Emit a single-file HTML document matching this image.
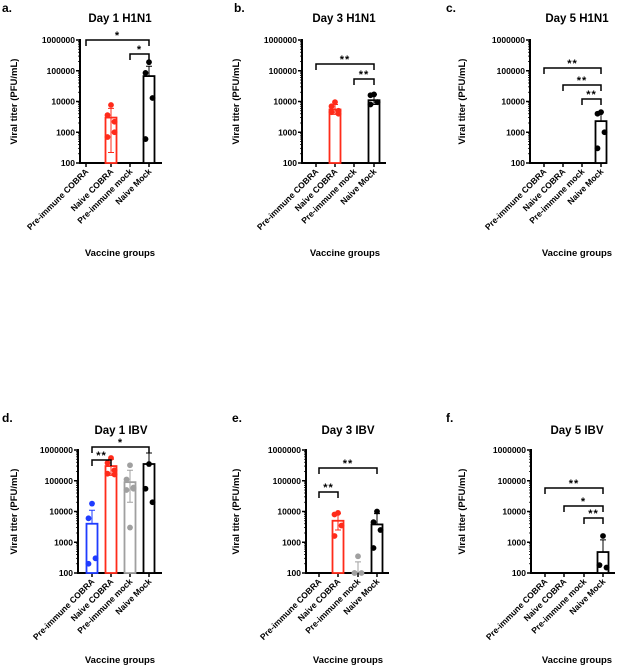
<!DOCTYPE html>
<html><head><meta charset="utf-8"><style>
html,body{margin:0;padding:0;background:#fff;}
svg{display:block;font-family:"Liberation Sans",Arial,sans-serif;}
</style></head><body>
<svg id="fig" width="617" height="668" viewBox="0 0 617 668"></svg>
<script>
const categories = ["Pre-immune COBRA","Naive COBRA","Pre-immune mock","Naive Mock"];
const yTicks = [100,1000,10000,100000,1000000];
const yTickLabels = ["100","1000","10000","100000","1000000"];
const groupColors = ["#1f3cff","#ff2b1a","#a0a0a0","#000000"];

const aMeans = [null,3000,null,67000];
const aErrTop = [null,6000,null,140000];
const aErrBot = [null,220,null,null];
const aPoints = [[],[7700,3600,2200,700,1000],[],[190000,85000,13000,600]];

const bMeans = [null,5500,null,11000];
const bErrTop = [null,8000,null,17000];
const bErrBot = [null,3800,null,8000];
const bPoints = [[],[9500,7000,5000,4500,4000],[],[17000,16000,9500,8000]];

const cMeans = [null,null,null,2300];
const cErrTop = [null,null,null,4500];
const cErrBot = [null,null,null,null];
const cPoints = [[],[],[],[4500,4000,1000,300]];

const dMeans = [4000,300000,90000,350000];
const dErrTop = [11000,500000,220000,800000];
const dErrBot = [null,150000,20000,null];
const dPoints = [[18000,6000,300,200],[550000,380000,220000,170000,160000],[320000,110000,60000,50000,55000,3000],[350000,55000,20000]];

const eMeans = [null,5000,100,3800];
const eErrTop = [null,8500,230,8500];
const eErrBot = [null,2500,null,null];
const ePoints = [[],[9000,8000,3500,1600],[350,100,100,100],[10000,4500,2500,650]];

const fMeans = [null,null,null,480];
const fErrTop = [null,null,null,1200];
const fErrBot = [null,null,null,null];
const fPoints = [[],[],[],[1600,180,150]];

const aSig = [[0,3,"*"],[2,3,"*"]];
const bSig = [[0,3,"**"],[2,3,"**"]];
const cSig = [[0,3,"**"],[1,3,"**"],[2,3,"**"]];
const dSig = [[0,3,"*"],[0,1,"**"]];
const eSig = [[0,3,"**"],[0,1,"**"]];
const fSig = [[0,3,"**"],[1,3,"*"],[2,3,"**"]];

const panels = [
 {id:"a",title:"Day 1 H1N1",top:40,bottom:163,ax:80,axEnd:162,cx:[86,111,130,149],lx:2,ly:12,tx:120,ty:22,ylx:17,vgx:120,vgy:256,means:aMeans,et:aErrTop,eb:aErrBot,pts:aPoints,sig:aSig,sigY:[40,54]},
 {id:"b",title:"Day 3 H1N1",top:40,bottom:163,ax:302,axEnd:386,cx:[316,335,354,374],lx:234,ly:12,tx:344,ty:22,ylx:239,vgx:345,vgy:256,means:bMeans,et:bErrTop,eb:bErrBot,pts:bPoints,sig:bSig,sigY:[64,79]},
 {id:"c",title:"Day 5 H1N1",top:40,bottom:163,ax:530,axEnd:607,cx:[544,563,582,601],lx:446,ly:12,tx:577,ty:22,ylx:465,vgx:577,vgy:256,means:cMeans,et:cErrTop,eb:cErrBot,pts:cPoints,sig:cSig,sigY:[68,85,99]},
 {id:"d",title:"Day 1 IBV",top:450,bottom:573,ax:78,axEnd:162,cx:[92,111,130,149],lx:2,ly:422,tx:121,ty:434,ylx:17,vgx:120,vgy:663,means:dMeans,et:dErrTop,eb:dErrBot,pts:dPoints,sig:dSig,sigY:[447,460]},
 {id:"e",title:"Day 3 IBV",top:450,bottom:573,ax:306,axEnd:389,cx:[319,338,358,377],lx:232,ly:422,tx:348,ty:434,ylx:239,vgx:348,vgy:663,means:eMeans,et:eErrTop,eb:eErrBot,pts:ePoints,sig:eSig,sigY:[468,492]},
 {id:"f",title:"Day 5 IBV",top:450,bottom:573,ax:531,axEnd:615,cx:[545,564,584,603],lx:446,ly:422,tx:577,ty:434,ylx:465,vgx:577,vgy:663,means:fMeans,et:fErrTop,eb:fErrBot,pts:fPoints,sig:fSig,sigY:[488,506,518]}
];

const NS="http://www.w3.org/2000/svg";
const svg=document.getElementById("fig");
function mk(tag,attrs,parent,txt){const e=document.createElementNS(NS,tag);for(const k in attrs)e.setAttribute(k,attrs[k]);if(txt!==undefined)e.textContent=txt;parent.appendChild(e);return e;}

panels.forEach(p=>{
  const g=mk("g",{},svg);
  
  
  const y=v=>p.bottom-(Math.log10(Math.max(v,100))-2)*(p.bottom-p.top)/4;
  const t1=mk("text",{x:p.lx,y:p.ly,"font-size":12,"font-weight":"bold"},g,p.id+".");
  
  
  const t2=mk("text",{x:p.tx,y:p.ty,"font-size":11.5,"font-weight":"bold","text-anchor":"middle"},g,p.title);
  
  
  const yl=mk("text",{x:0,y:0,"font-size":9.5,"font-weight":"bold","text-anchor":"middle",transform:`translate(${p.ylx},${(p.top+p.bottom)/2}) rotate(-90)`},g,"Viral titer (PFU/mL)");
  
  
  const vg=mk("text",{x:p.vgx,y:p.vgy,"font-size":9.5,"font-weight":"bold","text-anchor":"middle"},g,"Vaccine groups");
  
  
  const ya=mk("line",{x1:p.ax,y1:p.top-1,x2:p.ax,y2:p.bottom,stroke:"#000","stroke-width":2},g);
  
  
  const xa=mk("line",{x1:p.ax-1,y1:p.bottom,x2:p.axEnd,y2:p.bottom,stroke:"#000","stroke-width":2},g);
  
  
  yTicks.forEach((tv,i)=>{
    const yy=y(tv);
    mk("line",{x1:p.ax-4,y1:yy,x2:p.ax,y2:yy,stroke:"#000","stroke-width":1.5},g);
    if(i<yTicks.length-1){for(let m=2;m<10;m++){const my=y(tv*m);mk("line",{x1:p.ax-2,y1:my,x2:p.ax,y2:my,stroke:"#000","stroke-width":0.8},g);}}
    const tl=mk("text",{x:p.ax-5,y:yy+3,"font-size":8.5,"font-weight":"bold","text-anchor":"end"},g,yTickLabels[i]);
    
    
  });
  categories.forEach((c,i)=>{
    const cx=p.cx[i];
    mk("line",{x1:cx,y1:p.bottom,x2:cx,y2:p.bottom+4,stroke:"#000","stroke-width":1.5},g);
    const xl=mk("text",{x:0,y:0,"font-size":8.5,"font-weight":"bold","text-anchor":"end",transform:`translate(${cx+3},${p.bottom+9}) rotate(-45)`},g,c);
    
    
    const col=groupColors[i];
    const m=p.means[i];
    if(m!==null){
      const top=y(m);
      const bar=mk("rect",{x:cx-5.5,y:top,width:11,height:p.bottom-top,fill:"#fff",stroke:col,"stroke-width":1.8},g);
      
      
      if(p.et[i]!==null){const et=y(p.et[i]);
        const e=mk("path",{d:`M${cx},${top} V${et} M${cx-3},${et} H${cx+3}`,stroke:col,"stroke-width":1,fill:"none"},g);
        
        }
      if(p.eb[i]!==null){const eb=y(p.eb[i]);
        const e=mk("path",{d:`M${cx},${top} V${eb} M${cx-3},${eb} H${cx+3}`,stroke:col,"stroke-width":1,fill:"none"},g);
        
        }
    }
    p.pts[i].forEach((v,j)=>{
      const off=[0,-3.5,3.5,-3.5,3.5,0][j%6];
      const pt=mk("circle",{cx:cx+off,cy:y(v),r:2.9,fill:col},g);
      
      
    });
  });
  p.sig.forEach((s,k)=>{
    const by=p.sigY[k];const x1=p.cx[s[0]],x2=p.cx[s[1]];
    const br=mk("path",{d:`M${x1},${by+6} V${by} H${x2} V${by+6}`,stroke:"#000","stroke-width":1.5,fill:"none"},g);
    
    
    const st=mk("text",{x:(x1+x2)/2,y:by-1,"font-size":11,"font-weight":"bold","text-anchor":"middle","letter-spacing":"1"},g,s[2]);
    
    
  });
});
</script>
</body></html>
